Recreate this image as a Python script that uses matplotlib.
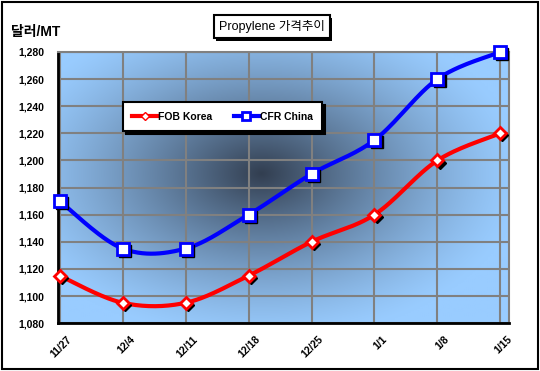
#!/usr/bin/env python3
"""Propylene price trend chart (FOB Korea vs CFR China)."""

import numpy as np
import matplotlib
matplotlib.use("Agg")
import matplotlib.pyplot as plt
import matplotlib.patheffects as pe
import matplotlib.transforms as mtransforms
from matplotlib.patches import Rectangle

plt.rcParams["font.family"] = ["Liberation Sans", "Noto Sans CJK KR", "DejaVu Sans"]

dates = ["11/27", "12/4", "12/11", "12/18", "12/25", "1/1", "1/8", "1/15"]
fob_korea = [1115, 1095, 1095, 1115, 1140, 1160, 1200, 1220]
cfr_china = [1170, 1135, 1135, 1160, 1190, 1215, 1260, 1280]
y_ticks = list(range(1080, 1281, 20))


def smooth(xs, ys, n=30):
    """Catmull-Rom style Bezier smoothing like Excel's smoothed lines."""
    xs = np.asarray(xs, float)
    ys = np.asarray(ys, float)
    px = np.concatenate([[xs[0]], xs, [xs[-1]]])
    py = np.concatenate([[ys[0]], ys, [ys[-1]]])
    out_x, out_y = [], []
    t = np.linspace(0, 1, n)
    for i in range(1, len(px) - 2):
        x0, x1, x2, x3 = px[i - 1], px[i], px[i + 1], px[i + 2]
        y0, y1, y2, y3 = py[i - 1], py[i], py[i + 1], py[i + 2]
        c1x, c1y = x1 + (x2 - x0) / 6, y1 + (y2 - y0) / 6
        c2x, c2y = x2 - (x3 - x1) / 6, y2 - (y3 - y1) / 6
        bx = (1 - t) ** 3 * x1 + 3 * (1 - t) ** 2 * t * c1x + 3 * (1 - t) * t ** 2 * c2x + t ** 3 * x2
        by = (1 - t) ** 3 * y1 + 3 * (1 - t) ** 2 * t * c1y + 3 * (1 - t) * t ** 2 * c2y + t ** 3 * y2
        out_x.extend(bx)
        out_y.extend(by)
    return np.array(out_x), np.array(out_y)


fig = plt.figure(figsize=(5.4, 3.71), dpi=100)
ax = fig.add_axes([0.107, 0.129, 0.836, 0.731])

# radial gradient background
gx, gy = np.meshgrid(np.linspace(0, 1, 300), np.linspace(0, 1, 200))
r = np.sqrt(((gx - 0.45) / 0.58) ** 2 + ((gy - 0.55) / 0.62) ** 2)
w = np.clip(1 - r, 0, 1) ** 1.3
edge = np.array([153, 204, 255]) / 255
center = np.array([50, 62, 80]) / 255
img = edge + (center - edge) * w[..., None]
ax.imshow(img, extent=[0, 1, 0, 1], transform=ax.transAxes, origin="lower",
          aspect="auto", zorder=0, interpolation="bilinear")

x = np.arange(len(dates))
ax.set_xlim(-0.03, 7.14)
ax.set_ylim(1080, 1280)
ax.set_xticks(x)
ax.set_xticklabels([])
ax.set_yticks(y_ticks)
ax.set_yticklabels([f"{v:,}" for v in y_ticks], fontsize=7.5, fontweight="bold")
ax.grid(True, color="#808080", linewidth=1.5, zorder=1)
ax.set_axisbelow(True)
ax.tick_params(length=0, pad=10)
for s in ["top", "right"]:
    ax.spines[s].set_color("#808080")
    ax.spines[s].set_linewidth(1.5)
for s in ["left", "bottom"]:
    ax.spines[s].set_color("black")
    ax.spines[s].set_linewidth(2)

for i, lab in enumerate(dates):
    ax.annotate(lab, (i, 1080), xytext=(5, -8), textcoords="offset points",
                rotation=45, ha="right", va="top", fontsize=7.5, fontweight="bold",
                rotation_mode="anchor", annotation_clip=False)

shadow = mtransforms.offset_copy(ax.transData, fig=fig, x=1.5, y=-1.5, units="points")

for vals, color, marker, ms, name in [
    (fob_korea, "red", "D", 6, "FOB Korea"),
    (cfr_china, "blue", "s", 8, "CFR China"),
]:
    sx, sy = smooth(x, vals)
    ax.plot(sx, sy, color=color, linewidth=3, zorder=3, clip_on=False)
    ax.plot(x, vals, linestyle="none", marker=marker, markersize=ms,
            color="black", transform=shadow, zorder=3.5, clip_on=False)
    ax.plot(x, vals, linestyle="none", marker=marker, markersize=ms,
            markerfacecolor="white", markeredgecolor=color, markeredgewidth=2,
            zorder=4, clip_on=False)

# legend entries
h1, = ax.plot([], [], color="red", linewidth=3, marker="D", markersize=4.5,
              markerfacecolor="white", markeredgecolor="red")
h2, = ax.plot([], [], color="blue", linewidth=3, marker="s", markersize=5.5,
              markerfacecolor="white", markeredgecolor="blue", markeredgewidth=2)
leg = ax.legend([h1, h2], ["FOB Korea", "CFR China"], ncol=2,
                loc="upper left", bbox_to_anchor=(0.133, 0.834),
                prop={"weight": "bold", "size": 7.5}, fancybox=False,
                shadow={"color": "black", "alpha": 1}, framealpha=1,
                edgecolor="black", handlelength=2.4, handletextpad=0.1,
                columnspacing=2.0, borderpad=0.9)
leg.get_frame().set_linewidth(1.5)
leg.set_zorder(6)

t = fig.text(0.503, 0.928, "Propylene 가격추이", ha="center", va="center", fontsize=9,
             bbox=dict(boxstyle="square,pad=0.4", facecolor="white", edgecolor="black",
                       linewidth=1.5))
t.get_bbox_patch().set_path_effects([
    pe.SimplePatchShadow(offset=(2, -2), shadow_rgbFace="black", alpha=1),
    pe.Normal(),
])
fig.text(0.02, 0.915, "달러/MT", ha="left", va="center", fontsize=10, fontweight="bold")

fig.patches.append(Rectangle((0.004, 0.006), 0.992, 0.988, transform=fig.transFigure,
                             fill=False, edgecolor="black", linewidth=1.5))

fig.savefig("out.png", dpi=100)
